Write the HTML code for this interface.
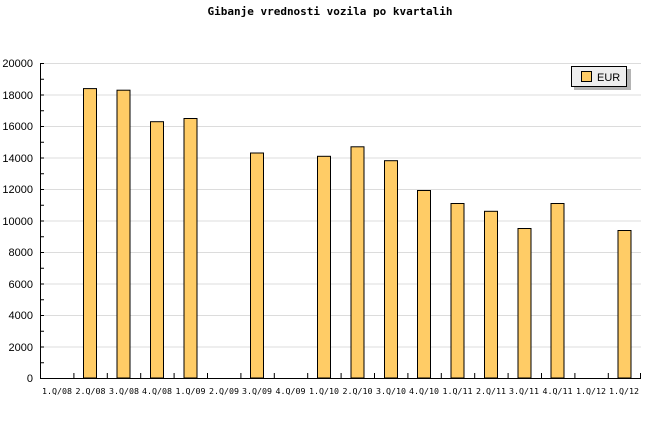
<!DOCTYPE html>
<html><head><meta charset="utf-8"><style>
html,body{margin:0;padding:0;background:#fff;}
svg{display:block;}
text{font-family:"DejaVu Sans Mono","Liberation Mono",monospace;fill:#000;}
text.s{font-family:"Liberation Sans",sans-serif;}
</style></head><body>
<svg width="660" height="440" xmlns="http://www.w3.org/2000/svg">
<text x="330" y="15" font-size="11" font-weight="bold" text-anchor="middle">Gibanje vrednosti vozila po kvartalih</text>
<g stroke="#dcdcdc" stroke-width="1">
<line x1="41" y1="63.5" x2="641" y2="63.5"/><line x1="41" y1="95" x2="641" y2="95"/><line x1="41" y1="126.5" x2="641" y2="126.5"/><line x1="41" y1="158" x2="641" y2="158"/><line x1="41" y1="189.5" x2="641" y2="189.5"/><line x1="41" y1="221" x2="641" y2="221"/><line x1="41" y1="252.5" x2="641" y2="252.5"/><line x1="41" y1="284" x2="641" y2="284"/><line x1="41" y1="315.5" x2="641" y2="315.5"/><line x1="41" y1="347" x2="641" y2="347"/>
</g>
<g font-size="11" text-anchor="end">
<text class="s" x="33" y="67">20000</text><text class="s" x="33" y="99">18000</text><text class="s" x="33" y="130">16000</text><text class="s" x="33" y="162">14000</text><text class="s" x="33" y="193">12000</text><text class="s" x="33" y="225">10000</text><text class="s" x="33" y="256">8000</text><text class="s" x="33" y="288">6000</text><text class="s" x="33" y="319">4000</text><text class="s" x="33" y="351">2000</text><text class="s" x="33" y="382">0</text>
</g>
<g fill="#ffcc66" stroke="#000" stroke-width="1">
<rect x="83.5" y="88.6" width="13" height="289.4"/>
<rect x="117" y="90.2" width="13" height="287.8"/>
<rect x="150.5" y="121.7" width="13" height="256.3"/>
<rect x="184" y="118.5" width="13" height="259.5"/>
<rect x="250.5" y="153" width="13" height="225"/>
<rect x="317.5" y="156.3" width="13" height="221.7"/>
<rect x="351" y="146.8" width="13" height="231.2"/>
<rect x="384.5" y="160.7" width="13" height="217.3"/>
<rect x="417.5" y="190.5" width="13" height="187.5"/>
<rect x="451" y="203.5" width="13" height="174.5"/>
<rect x="484.5" y="211.3" width="13" height="166.7"/>
<rect x="518" y="228.5" width="13" height="149.5"/>
<rect x="551" y="203.5" width="13" height="174.5"/>
<rect x="618" y="230.5" width="13" height="147.5"/>
</g>
<g stroke="#000" stroke-width="1">
<line x1="40.5" y1="63" x2="40.5" y2="378"/>
<line x1="40" y1="378.5" x2="641" y2="378.5"/>
<path d="M40 63.5h4M40 95h4M40 126.5h4M40 158h4M40 189.5h4M40 221h4M40 252.5h4M40 284h4M40 315.5h4M40 347h4M40 79.2h4M40 110.7h4M40 142.2h4M40 173.7h4M40 205.2h4M40 236.7h4M40 268.2h4M40 299.7h4M40 331.2h4M40 362.7h4"/>
<path d="M73.9 378v-5M107.3 378v-5M140.7 378v-5M174.1 378v-5M207.5 378v-5M240.9 378v-5M274.3 378v-5M307.7 378v-5M341.1 378v-5M374.5 378v-5M407.9 378v-5M441.3 378v-5M474.7 378v-5M508.1 378v-5M541.5 378v-5M574.9 378v-5M608.3 378v-5M640.5 378v-5"/>
</g>
<g font-size="8.3" text-anchor="middle">
<text x="57" y="394">1.Q/08</text><text x="90.5" y="394">2.Q/08</text><text x="124" y="394">3.Q/08</text><text x="157" y="394">4.Q/08</text><text x="190.5" y="394">1.Q/09</text><text x="224" y="394">2.Q/09</text><text x="257" y="394">3.Q/09</text><text x="290.5" y="394">4.Q/09</text><text x="324" y="394">1.Q/10</text><text x="357.5" y="394">2.Q/10</text><text x="391" y="394">3.Q/10</text><text x="424" y="394">4.Q/10</text><text x="457.5" y="394">1.Q/11</text><text x="491" y="394">2.Q/11</text><text x="524" y="394">3.Q/11</text><text x="557.5" y="394">4.Q/11</text><text x="591" y="394">1.Q/12</text><text x="624" y="394">1.Q/12</text>
</g>
<rect x="574" y="69" width="57" height="21" fill="#b4b4b4"/>
<rect x="571.5" y="66.5" width="55" height="20" fill="#eeeeee" stroke="#000"/>
<rect x="581.5" y="71.5" width="10" height="10" fill="#ffcc66" stroke="#000"/>
<text class="s" x="597" y="81" font-size="11">EUR</text>
</svg>
</body></html>
